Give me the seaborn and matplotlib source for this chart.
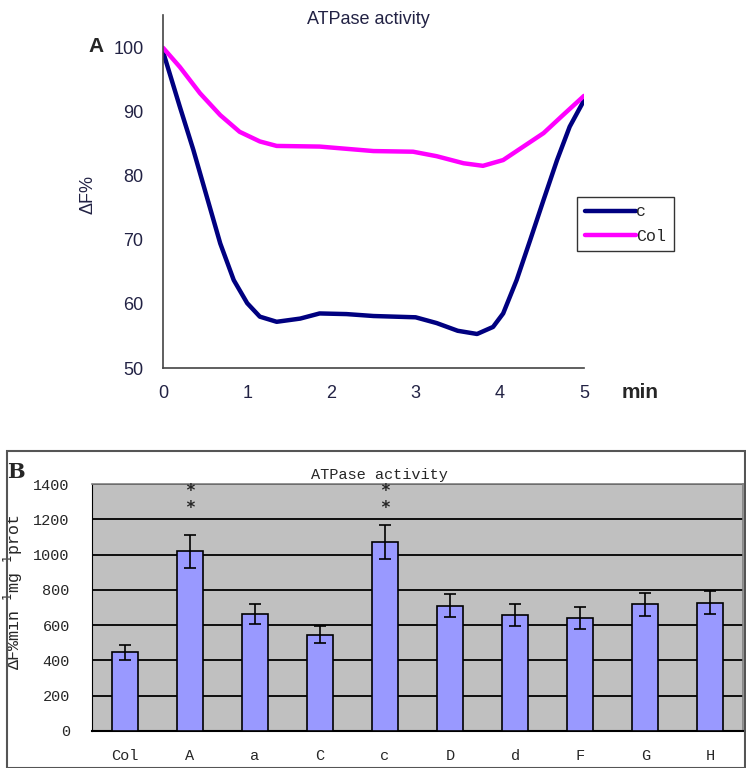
import matplotlib
matplotlib.use("Agg")
import matplotlib.pyplot as plt
import pandas as pd
import numpy as np
import seaborn as sns
from matplotlib.patches import Rectangle

# panel A: fluorescence quench curves
c_min = [0, 0.2, 0.36, 0.52, 0.68, 0.84, 1.0, 1.15, 1.35, 1.63, 1.86, 2.18, 2.5, 3.0, 3.25,
         3.5, 3.73, 3.92, 4.04, 4.2, 4.36, 4.52, 4.68, 4.83, 5.0]
c_curve = [99.3, 90.7, 84.0, 76.7, 69.4, 63.7, 60.1, 58.0, 57.2, 57.7, 58.5, 58.4, 58.1, 57.9, 57.0,
           55.8, 55.3, 56.4, 58.5, 63.7, 69.9, 76.2, 82.4, 87.6, 91.7]
col_min = [0, 0.2, 0.44, 0.68, 0.91, 1.15, 1.35, 1.86, 2.5, 2.97, 3.25, 3.57, 3.8, 4.04, 4.28,
           4.52, 4.75, 5.0]
col_curve = [99.9, 96.9, 92.8, 89.4, 86.8, 85.3, 84.6, 84.5, 83.8, 83.7, 83.0, 81.9, 81.5, 82.4, 84.5,
             86.6, 89.4, 92.4]

# panel B: ATPase activity per line
lines = ["Col", "A", "a", "C", "c", "D", "d", "F", "G", "H"]
activity = [445, 1018, 664, 545, 1070, 710, 658, 642, 718, 728]
errors = [43, 92, 58, 48, 95, 66, 63, 63, 65, 67]
signif = ["", "**", "", "", "**", "", "", "", "", ""]

sns.set_style("white")
plt.rcParams['font.family'] = ['Liberation Sans', 'DejaVu Sans']

fig = plt.figure(figsize=(7.46, 7.68), dpi=100)

# ---------------- panel A ----------------
ax1 = fig.add_axes([163/746, 1-368/768, (584-163)/746, (368-15)/768])
df_a = pd.concat([pd.DataFrame({"min": c_min, "dF": c_curve, "line": "c"}),
                  pd.DataFrame({"min": col_min, "dF": col_curve, "line": "Col"})])
sns.lineplot(data=df_a, x="min", y="dF", hue="line", palette={"c": "#000080", "Col": "#FF00FF"},
             linewidth=3.2, ax=ax1, legend=False)
ax1.set_xlim(0, 5)
ax1.set_ylim(50, 105)
ax1.set_xticks(range(6))
ax1.set_yticks(range(50, 101, 10))
ax1.tick_params(direction="in", length=5, width=1, labelsize=13, colors="#222244", pad=12)
ax1.tick_params(axis="y", pad=14)
for s in ["top", "right"]:
    ax1.spines[s].set_visible(False)
for s in ["left", "bottom"]:
    ax1.spines[s].set_color("#444444")
    ax1.spines[s].set_linewidth(1.2)
ax1.set_xlabel("")
ax1.set_ylabel("ΔF%", fontsize=13, color="#222244")
ax1.yaxis.set_label_coords((97 - 163) / 421, (368 - 195) / 353)
fig.text(368/746, 1-20/768, "ATPase activity", ha="center", va="center", fontsize=13, color="#222244")
fig.text(96/746, 1-47/768, "A", ha="center", va="center", fontsize=15, fontweight="bold")
fig.text(640/746, 1-392/768, "min", ha="center", va="center", fontsize=15, fontweight="bold")

h1, = ax1.plot([], [], color="#000080", lw=3.2)
h2, = ax1.plot([], [], color="#FF00FF", lw=3.2)
leg = ax1.legend([h1, h2], ["c", "Col"], loc="upper left", bbox_to_anchor=((577-163)/421, (368-197)/353),
                 frameon=True, fancybox=False, handlelength=3.1, handletextpad=0.0, borderpad=0.45,
                 labelspacing=0.55, borderaxespad=0, prop={"family": "Liberation Mono", "size": 12})
leg.get_frame().set_edgecolor("black")
leg.get_frame().set_linewidth(1.0)

# ---------------- panel B ----------------
fig.patches.append(Rectangle((7/746, 0), 0.999 - 7/746, 1-451/768, transform=fig.transFigure,
                             fill=False, edgecolor="#555555", linewidth=1.5))

ax2 = fig.add_axes([92/746, 1-731/768, (743-92)/746, (731-484)/768])
ax2.set_facecolor("#C0C0C0")
df_b = pd.DataFrame({"line": lines, "activity": activity})
sns.barplot(data=df_b, x="line", y="activity", color="#9999FF", saturation=1, width=0.4,
            edgecolor="black", linewidth=1.2, ax=ax2, zorder=3)
ax2.errorbar(range(len(lines)), activity, yerr=errors, fmt="none", ecolor="black",
             elinewidth=1.2, capsize=4, capthick=1.2, zorder=4)
for i, s in enumerate(signif):
    if s:
        ax2.text(i, 1313, "*\n*", ha="center", va="center", fontsize=12, fontweight="bold",
                 linespacing=0.95, family="DejaVu Sans Mono")
ax2.set_xlim(-0.5, len(lines) - 0.5)
ax2.set_ylim(0, 1400)
ax2.set_yticks(range(0, 1401, 200))
ax2.yaxis.grid(True, color="black", linewidth=1.3)
ax2.set_axisbelow(True)
ax2.set_xticks(np.arange(0.5, len(lines) - 0.5, 1), minor=True)
ax2.tick_params(axis="x", which="minor", direction="in", length=4, width=1.2, color="black")
ax2.tick_params(axis="x", which="major", length=0, pad=13)
ax2.tick_params(axis="y", length=0, pad=16)
for lab in ax2.get_xticklabels() + ax2.get_yticklabels():
    lab.set_family("Liberation Mono")
    lab.set_fontsize(11)
for s in ["top", "right"]:
    ax2.spines[s].set_color("#808080")
    ax2.spines[s].set_linewidth(1.2)
ax2.spines["left"].set_color("black")
ax2.spines["bottom"].set_color("black")
ax2.spines["bottom"].set_linewidth(1.5)
ax2.set_xlabel("")
ax2.set_ylabel("ΔF%min$^{-1}$mg$^{-1}$prot", family="Liberation Mono", fontsize=12)
ax2.yaxis.set_label_coords((25 - 92) / 651, (731 - 592) / 247)
fig.text(379/746, 1-475/768, "ATPase activity", ha="center", va="center", fontsize=11,
         family="Liberation Mono")
fig.text(16/746, 1-472/768, "B", ha="center", va="center", fontsize=15, fontweight="bold",
         family="DejaVu Serif")

fig.savefig("out.png", dpi=100)
